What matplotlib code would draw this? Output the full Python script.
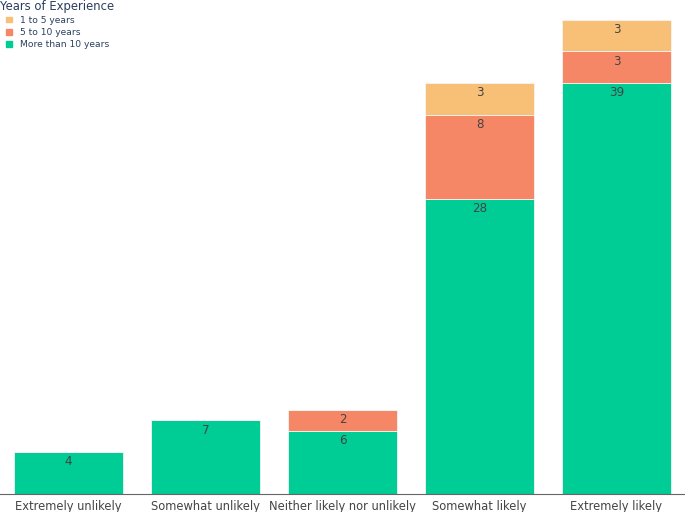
import numpy as np
import matplotlib.pyplot as plt
from matplotlib.patches import Patch

# Dados
categorias = ['Extremely unlikely', 'Somewhat unlikely', 'Neither likely nor unlikely',
              'Somewhat likely', 'Extremely likely']
mais_10 = [4, 7, 6, 28, 39]
de_5_a_10 = [0, 0, 2, 8, 3]
de_1_a_5 = [0, 0, 0, 3, 3]

series = ['More than 10 years', '5 to 10 years', '1 to 5 years']
cores = ['#00CC96', '#F58766', '#F8C077']
cor_texto = '#444444'

fig = plt.figure(figsize=(6.85, 5.12), dpi=100)
ax = fig.add_axes([0, 18/512, 1, 494/512])

x = np.arange(len(categorias))
base = np.zeros(len(categorias))
for nome, valores, cor in zip(series, [mais_10, de_5_a_10, de_1_a_5], cores):
    valores = np.array(valores, dtype=float)
    ax.bar(x, valores, 0.8, bottom=base, color=cor, edgecolor='#f4f4f4', linewidth=0.6, label=nome)
    for xi, b, v in zip(x, base, valores):
        if v > 0:
            ax.annotate(f"{int(v)}", xy=(xi, b + v), xytext=(0, -7.2), textcoords='offset points',
                        ha='center', va='center', fontsize=8.6, color=cor_texto)
    base += valores

ax.set_xlim(-0.5, len(categorias) - 0.5)
ax.set_ylim(0, 46.87)
ax.set_xticks(x)
ax.set_xticklabels(categorias, fontsize=8.3, color=cor_texto)
ax.tick_params(axis='x', length=0, pad=4)
ax.set_yticks([])
for s in ['top', 'right', 'left']:
    ax.spines[s].set_visible(False)
ax.spines['bottom'].set_color('#666666')
ax.spines['bottom'].set_linewidth(0.8)

# Legenda
handles = [Patch(color=cores[2], label=series[2]),
           Patch(color=cores[1], label=series[1]),
           Patch(color=cores[0], label=series[0])]
leg = fig.legend(handles=handles, loc='upper left', bbox_to_anchor=(-0.006, 1.009),
                 title='Years of Experience', frameon=False, fontsize=6.6,
                 title_fontsize=8.4, handlelength=0.6, handleheight=0.6,
                 handletextpad=1.5, labelspacing=0.36, borderpad=0.0, labelcolor='#2a3f5f')
leg._legend_box.align = 'left'
leg._legend_box.sep = 2
leg.get_title().set_color('#2a3f5f')
for h in leg.legend_handles:
    h.set_x(h.get_x() + 4)

plt.savefig('out.png', dpi=100)
